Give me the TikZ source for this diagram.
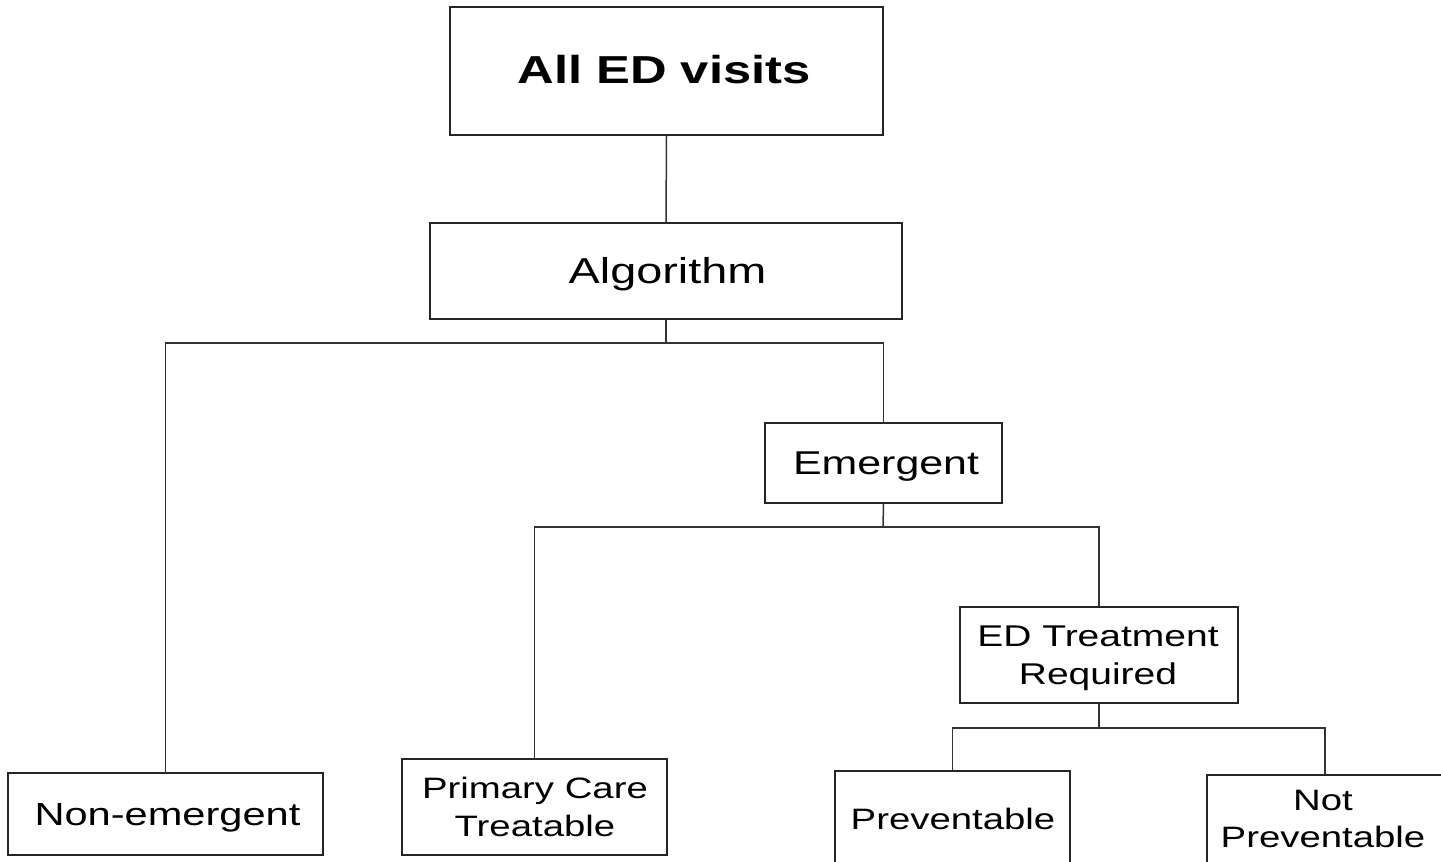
\documentclass[tikz,border=0pt]{standalone}
\usepackage{fontspec}
\setmainfont[FakeStretch=1.3]{Liberation Sans}
\begin{document}
\begin{tikzpicture}[x=1pt,y=-1pt,
  box/.style={draw=black!85, line width=1.7pt, rectangle, inner sep=0pt},
  conn/.style={draw=black!80, line width=1.5pt},
  lbl/.style={anchor=base, inner sep=0pt, align=center, text=black}]
\useasboundingbox (0,0) rectangle (1441,862);
\clip (0,0) rectangle (1441,862);
\fill[white] (0,0) rectangle (1441,862);
% boxes
\node[box, minimum width=433pt, minimum height=128pt] (all) at (666.5,71) {};
\node[box, minimum width=472pt, minimum height=96pt] (alg) at (666,271) {};
\node[box, minimum width=237pt, minimum height=80pt] (emg) at (883.5,463) {};
\node[box, minimum width=315pt, minimum height=82pt] (non) at (165.5,814) {};
\node[box, minimum width=265pt, minimum height=96pt] (pc) at (534.5,807) {};
\node[box, minimum width=278pt, minimum height=96pt] (edt) at (1099,655) {};
\node[box, minimum width=235pt, minimum height=110pt] (prev) at (952.5,826) {};
\node[box, minimum width=236pt, minimum height=110pt] (notp) at (1325,830) {};
% texts
\node[lbl, font=\bfseries\fontsize{39}{44}\selectfont] (tall) at (664,83) {All ED visits};
\node[lbl, font=\fontsize{36}{40}\selectfont] (talg) at (667.5,283) {Algorithm};
\node[lbl, font=\fontsize{33}{38}\selectfont] (temg) at (886,474) {Emergent};
\node[lbl, font=\fontsize{32}{36}\selectfont] (tnon) at (167.5,825) {Non-emergent};
\node[lbl, font=\fontsize{29.5}{38}\selectfont] (tpc) at (535,836) {Primary Care\\Treatable};
\node[lbl, font=\fontsize{30}{38}\selectfont] (tedt) at (1098,684) {ED Treatment\\Required};
\node[lbl, font=\fontsize{29.5}{34}\selectfont] (tprev) at (953,829) {Preventable};
\node[lbl, font=\fontsize{29.5}{37}\selectfont] (tnotp) at (1323,847) {Not\\Preventable};
% junctions
\coordinate (j1) at (666,343);
\coordinate (j2) at (883,527);
\coordinate (j3) at (1099,728);
% connectors
\draw[conn] (all.south) -- (alg.north);
\draw[conn] (alg.south) -- (j1);
\draw[conn] (non.north) |- (j1) -| (emg.north);
\draw[conn] (emg.south) -- (j2);
\draw[conn] (pc.north) |- (j2) -| (edt.north);
\draw[conn] (edt.south) -- (j3);
\draw[conn] (prev.north) |- (j3) -| (notp.north);
\end{tikzpicture}
\end{document}
